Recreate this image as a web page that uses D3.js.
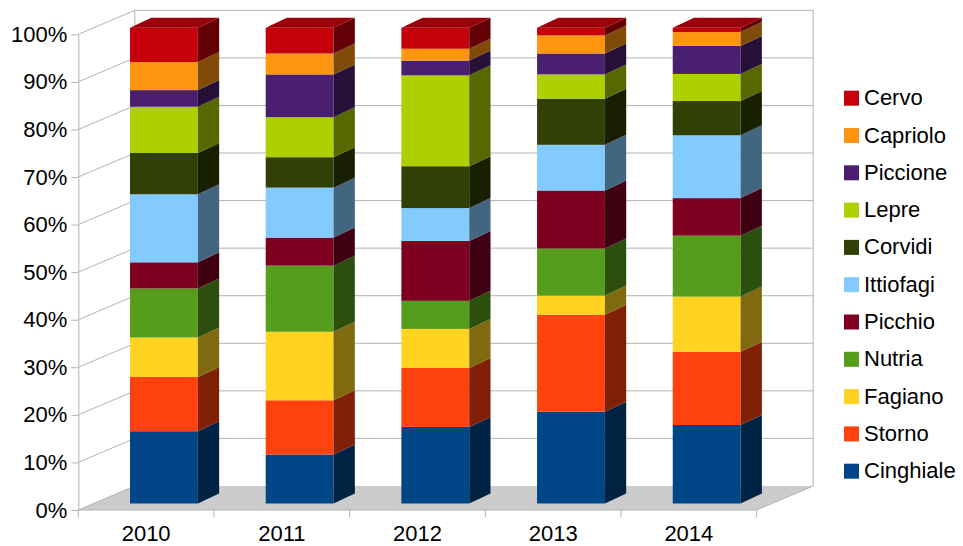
<!DOCTYPE html>
<html>
<head>
<meta charset="utf-8">
<script src="https://cdn.jsdelivr.net/npm/d3@7"></script>
<style>
  body { margin: 0; background: #fff; }
  text { font-family: "Liberation Sans", Arial, sans-serif; }
</style>
</head>
<body>
<div class="chart"></div>
<script>
const years = ['2010', '2011', '2012', '2013', '2014'];
const species = ['Cinghiale', 'Storno', 'Fagiano', 'Nutria', 'Picchio', 'Ittiofagi',
  'Corvidi', 'Lepre', 'Piccione', 'Capriolo', 'Cervo'];

// percent share per year
const cinghiale = [15.2, 10.3, 16.1, 19.3, 16.5];
const storno    = [11.4, 11.4, 12.4, 20.4, 15.4];
const fagiano   = [8.3, 14.4, 8.2, 4.0, 11.6];
const nutria    = [10.3, 13.9, 5.9, 9.9, 12.8];
const picchio   = [5.5, 5.9, 12.6, 12.2, 7.9];
const ittiofagi = [14.3, 10.5, 6.9, 9.6, 13.2];
const corvidi   = [8.7, 6.4, 8.8, 9.7, 7.2];
const lepre     = [9.7, 8.4, 19.1, 5.1, 5.7];
const piccione  = [3.5, 9.0, 3.1, 4.4, 5.9];
const capriolo  = [5.9, 4.4, 2.5, 3.8, 2.9];
const cervo     = [7.2, 5.4, 4.4, 1.6, 0.9];

const yTicks = [0, 0.1, 0.2, 0.3, 0.4, 0.5, 0.6, 0.7, 0.8, 0.9, 1];

const colors = ['#004586', '#ff420e', '#ffd320', '#579d1c', '#7e0021', '#83caff',
  '#314004', '#aecf00', '#4b1f6f', '#ff950e', '#c5000b'];

const seriesValues = [cinghiale, storno, fagiano, nutria, picchio, ittiofagi,
  corvidi, lepre, piccione, capriolo, cervo];

const table = years.map((yr, i) => {
  const row = {year: yr};
  species.forEach((s, j) => { row[s] = seriesValues[j][i]; });
  return row;
});

const width = 963, height = 546;
const gridColor = '#b3b3b3';

// wall depth offset and bar offsets
const DX = 56.5, DY = 24;
const BX = 17.8, BY = 6.5;
const SX = 21.3, SY = 10;

const svg = d3.select('.chart').append('svg')
  .attr('width', width)
  .attr('height', height);

const x = d3.scaleBand()
  .domain(years)
  .range([78.3, 756.7]);

const y = d3.scaleLinear()
  .domain([0, 1])
  .range([510, 34.3]);

const color = d3.scaleOrdinal().domain(species).range(colors);

const x0 = x.range()[0], x1 = x.range()[1];

// floor
svg.append('polygon')
  .attr('points', [[x0, y(0)], [x1, y(0)], [x1 + DX, y(0) - DY], [x0 + DX, y(0) - DY]].join(' '))
  .attr('fill', '#cccccc');

// back wall grid
svg.append('g').selectAll('line')
  .data(yTicks.slice(1))
  .enter()
  .append('line')
    .attr('x1', x0 + DX).attr('x2', x1 + DX)
    .attr('y1', d => y(d) - DY).attr('y2', d => y(d) - DY)
    .attr('stroke', gridColor);

// side wall diagonals
svg.append('g').selectAll('line')
  .data(yTicks)
  .enter()
  .append('line')
    .attr('x1', x0).attr('x2', x0 + DX)
    .attr('y1', d => y(d)).attr('y2', d => y(d) - DY)
    .attr('stroke', gridColor);

// wall edges
[x0 + DX, x1 + DX].forEach(px => {
  svg.append('line')
    .attr('x1', px).attr('x2', px)
    .attr('y1', y(0) - DY).attr('y2', y(1) - DY)
    .attr('stroke', gridColor);
});
svg.append('line')
  .attr('x1', x1).attr('y1', y(0))
  .attr('x2', x1 + DX).attr('y2', y(0) - DY)
  .attr('stroke', gridColor);

// y axis
const yAxis = d3.axisLeft(y)
  .tickValues(yTicks)
  .tickFormat(d3.format('.0%'))
  .tickSize(7)
  .tickSizeOuter(0)
  .tickPadding(4);

const ga = svg.append('g')
  .attr('transform', `translate(${x0},0)`)
  .call(yAxis);
ga.select('.domain').attr('stroke', gridColor);
ga.selectAll('.tick line').attr('stroke', gridColor);
ga.selectAll('.tick text')
  .attr('fill', '#000')
  .style('font-size', '22px')
  .style('font-family', '"Liberation Sans", Arial, sans-serif');

// x axis line and ticks at band edges
svg.append('line')
  .attr('x1', x0).attr('x2', x1)
  .attr('y1', y(0)).attr('y2', y(0))
  .attr('stroke', gridColor);

svg.append('g').selectAll('line')
  .data(years.map(d => x(d)).concat([x1]))
  .enter()
  .append('line')
    .attr('x1', d => d).attr('x2', d => d)
    .attr('y1', y(0)).attr('y2', y(0) + 7)
    .attr('stroke', gridColor);

svg.append('g').selectAll('text')
  .data(years)
  .enter()
  .append('text')
    .attr('x', d => x(d) + x.bandwidth() / 2)
    .attr('y', 541)
    .attr('text-anchor', 'middle')
    .attr('font-size', '22px')
    .text(d => d);

// stacked bars
const stack = d3.stack().keys(species).offset(d3.stackOffsetExpand);
const layers = stack(table);

const barW = x.bandwidth() * 0.5;
const bx = d => x(d.data.year) + x.bandwidth() * 0.25 + BX;

const shade = (c, k) => {
  const rgb = d3.rgb(c);
  return d3.rgb(rgb.r * k, rgb.g * k, rgb.b * k).formatHex();
};

const gl = svg.append('g').selectAll('g')
  .data(layers)
  .enter()
  .append('g');

gl.selectAll('rect')
  .data(d => d.map(p => Object.assign(p, {key: d.key})))
  .enter()
  .append('rect')
    .attr('x', d => bx(d))
    .attr('y', d => y(d[1]) - BY)
    .attr('width', barW)
    .attr('height', d => y(d[0]) - y(d[1]))
    .attr('fill', d => color(d.key));

gl.selectAll('polygon.side')
  .data(d => d)
  .enter()
  .append('polygon')
    .attr('class', 'side')
    .attr('points', d => {
      const r = bx(d) + barW;
      const yt = y(d[1]) - BY, yb = y(d[0]) - BY;
      return [[r, yb], [r + SX, yb - SY], [r + SX, yt - SY], [r, yt]].join(' ');
    })
    .attr('fill', d => shade(color(d.key), 0.5));

// top face of the last layer
const topLayer = layers[layers.length - 1];
svg.append('g').selectAll('polygon')
  .data(topLayer)
  .enter()
  .append('polygon')
    .attr('points', d => {
      const l = bx(d), r = l + barW, yt = y(d[1]) - BY;
      return [[l, yt], [r, yt], [r + SX, yt - SY], [l + SX, yt - SY]].join(' ');
    })
    .attr('fill', shade(color(topLayer.key), 0.78));

// legend
const legendItems = species.slice().reverse();
const lg = svg.append('g').selectAll('g')
  .data(legendItems)
  .enter()
  .append('g')
    .attr('transform', (d, i) => `translate(844,${98.2 + i * 37.3})`);

lg.append('rect')
  .attr('x', 0).attr('y', -7.5)
  .attr('width', 15).attr('height', 15)
  .attr('fill', d => color(d));

lg.append('text')
  .attr('x', 20)
  .attr('y', 7)
  .attr('font-size', '22px')
  .text(d => d);
</script>
</body>
</html>
